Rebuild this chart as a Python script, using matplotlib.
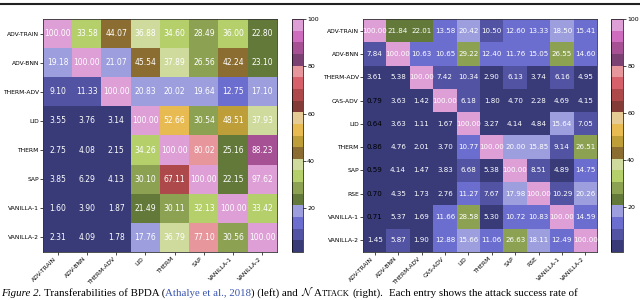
import numpy as np
import matplotlib
matplotlib.use('Agg')
import matplotlib.pyplot as plt
from matplotlib.lines import Line2D

plt.rcParams['mathtext.fontset'] = 'cm'

# BPDA transferability (left)
left_names = ['ADV-TRAIN', 'ADV-BNN', 'THERM-ADV', 'LID', 'THERM', 'SAP', 'VANILLA-1', 'VANILLA-2']
left_adv_train = [100.00, 33.58, 44.07, 36.88, 34.60, 28.49, 36.00, 22.80]
left_adv_bnn = [19.18, 100.00, 21.07, 45.54, 37.89, 26.56, 42.24, 23.10]
left_therm_adv = [9.10, 11.33, 100.00, 20.83, 20.02, 19.64, 12.75, 17.10]
left_lid = [3.55, 3.76, 3.14, 100.00, 52.66, 30.54, 48.51, 37.93]
left_therm = [2.75, 4.08, 2.15, 34.26, 100.00, 80.02, 25.16, 88.23]
left_sap = [3.85, 6.29, 4.13, 30.10, 67.11, 100.00, 22.15, 97.62]
left_vanilla1 = [1.60, 3.90, 1.87, 21.49, 30.11, 32.13, 100.00, 33.42]
left_vanilla2 = [2.31, 4.09, 1.78, 17.76, 36.79, 77.10, 30.56, 100.00]

# NAttack transferability (right)
right_names = ['ADV-TRAIN', 'ADV-BNN', 'THERM-ADV', 'CAS-ADV', 'LID', 'THERM', 'SAP', 'RSE', 'VANILLA-1', 'VANILLA-2']
right_adv_train = [100.00, 21.84, 22.01, 13.58, 20.42, 10.50, 12.60, 13.33, 18.50, 15.41]
right_adv_bnn = [7.84, 100.00, 10.63, 10.65, 29.22, 12.40, 11.76, 15.05, 26.55, 14.60]
right_therm_adv = [3.61, 5.38, 100.00, 7.42, 10.34, 2.90, 6.13, 3.74, 6.16, 4.95]
right_cas_adv = [0.79, 3.63, 1.42, 100.00, 6.18, 1.80, 4.70, 2.28, 4.69, 4.15]
right_lid = [0.64, 3.63, 1.11, 1.67, 100.00, 3.27, 4.14, 4.84, 15.64, 7.05]
right_therm = [0.86, 4.76, 2.01, 3.70, 10.77, 100.00, 20.00, 15.85, 9.14, 26.51]
right_sap = [0.59, 4.14, 1.47, 3.83, 6.68, 5.38, 100.00, 8.51, 4.89, 14.75]
right_rse = [0.70, 4.35, 1.73, 2.76, 11.27, 7.67, 17.98, 100.00, 10.29, 20.26]
right_vanilla1 = [0.71, 5.37, 1.69, 11.66, 28.58, 5.30, 10.72, 10.83, 100.00, 14.59]
right_vanilla2 = [1.45, 5.87, 1.90, 12.88, 15.66, 11.06, 26.63, 18.11, 12.49, 100.00]

cbar_ticks = [20, 40, 60, 80, 100]

W, H = 640, 300
fig = plt.figure(figsize=(W / 100, H / 100), dpi=100)


def draw_heatmap(ax, cax, data, names, annot_size):
    data = np.array(data)
    im = ax.imshow(data, cmap='tab20b', vmin=data.min(), vmax=data.max(),
                   aspect='auto', interpolation='nearest')
    n = len(names)
    for i in range(n):
        for j in range(n):
            v = data[i, j]
            ax.text(j, i, f'{v:.2f}', ha='center', va='center',
                    fontsize=annot_size, color='black' if v < 1 else 'white')
    ax.set_xticks(range(n))
    ax.set_yticks(range(n))
    ax.set_xticklabels(names, rotation=45, ha='right', fontsize=4.3)
    ax.set_yticklabels(names, fontsize=4.3)
    ax.tick_params(length=2, width=0.5, pad=1)
    for s in ax.spines.values():
        s.set_linewidth(0.6)
        s.set_color('#333333')
    cb = fig.colorbar(im, cax=cax, ticks=cbar_ticks)
    cb.ax.tick_params(labelsize=4.5, length=2, width=0.5, pad=1)
    cb.outline.set_linewidth(0.5)


ax1 = fig.add_axes([43 / W, 48 / H, 234 / W, 233 / H])
cax1 = fig.add_axes([292 / W, 48 / H, 11 / W, 233 / H])
draw_heatmap(ax1, cax1, [left_adv_train, left_adv_bnn, left_therm_adv, left_lid,
                         left_therm, left_sap, left_vanilla1, left_vanilla2],
             left_names, 5.5)

ax2 = fig.add_axes([363 / W, 48 / H, 234 / W, 233 / H])
cax2 = fig.add_axes([611 / W, 48 / H, 12 / W, 233 / H])
draw_heatmap(ax2, cax2, [right_adv_train, right_adv_bnn, right_therm_adv, right_cas_adv,
                         right_lid, right_therm, right_sap, right_rse,
                         right_vanilla1, right_vanilla2],
             right_names, 5.1)

# rule at the top of the page crop
fig.add_artist(Line2D([0, 1], [1 - 4 / H, 1 - 4 / H], color='#222222', linewidth=1.5))

# caption, built piece by piece
cap_size = 7.8
serif = 'Liberation Serif'
pieces = [
    ('Figure 2.', dict(style='italic'), False),
    ('Transferabilities of BPDA (', {}, True),
    ('Athalye et al., 2018', dict(color='#3a55b0'), False),
    (') (left) and', {}, False),
    (r'$\mathcal{N}$', {}, True),
    ('A', {}, False),
    ('TTACK', dict(fontsize=cap_size * 0.78), False),
    ('(right).', {}, True),
    ('Each entry shows the attack success rate of', {}, True),
]
renderer = fig.canvas.get_renderer()
space = 0.25 * cap_size * 100 / 72
x = 1.0
for s, kw, gap in pieces:
    if gap:
        x += space * (2 if s.startswith('Each') else 1)
    props = dict(fontsize=cap_size, family=serif, color='black')
    props.update(kw)
    t = fig.text(x / W, 4 / H, s, va='baseline', ha='left', **props)
    x = t.get_window_extent(renderer).x1

fig.savefig('out.png', dpi=100)
